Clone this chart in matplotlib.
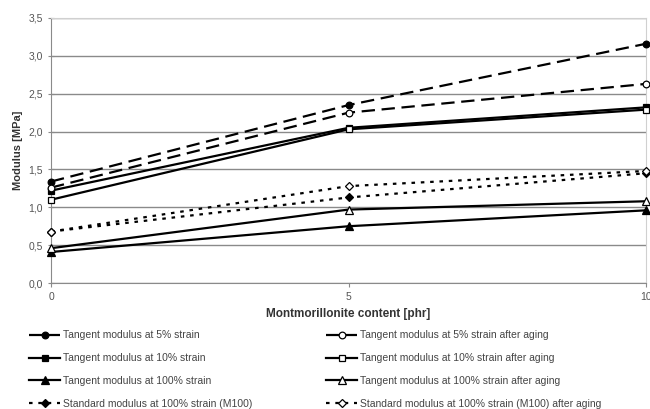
import matplotlib.pyplot as plt
from matplotlib.ticker import FuncFormatter

plt.rcParams['font.family'] = ['Liberation Sans', 'DejaVu Sans']

# Montmorillonite content [phr]
content = [0, 5, 10]

# modulus [MPa], before aging
tangent_5 = [1.34, 2.35, 3.16]
tangent_10 = [1.22, 2.05, 2.32]
tangent_100 = [0.41, 0.75, 0.96]
m100 = [0.68, 1.13, 1.45]

# modulus [MPa], after aging
tangent_5_aged = [1.26, 2.25, 2.63]
tangent_10_aged = [1.10, 2.03, 2.29]
tangent_100_aged = [0.46, 0.97, 1.08]
m100_aged = [0.68, 1.28, 1.48]

labels = [
    "Tangent modulus at 5% strain",
    "Tangent modulus at 10% strain",
    "Tangent modulus at 100% strain",
    "Standard modulus at 100% strain (M100)",
    "Tangent modulus at 5% strain after aging",
    "Tangent modulus at 10% strain after aging",
    "Tangent modulus at 100% strain after aging",
    "Standard modulus at 100% strain (M100) after aging",
]

dashed = (0, (6, 3))
dotted = (0, (1.6, 2.6))

series = [
    (tangent_5, dashed, 'o', 'black'),
    (tangent_10, '-', 's', 'black'),
    (tangent_100, '-', '^', 'black'),
    (m100, dotted, 'D', 'black'),
    (tangent_5_aged, dashed, 'o', 'white'),
    (tangent_10_aged, '-', 's', 'white'),
    (tangent_100_aged, '-', '^', 'white'),
    (m100_aged, dotted, 'D', 'white'),
]
msizes = {'o': 4.8, 's': 4.8, '^': 5.2, 'D': 4.0}

fig = plt.figure(figsize=(6.5, 4.09), dpi=100)
ax = fig.add_axes([0.0785, 0.308, 0.9155, 0.648])

handles = []
for (vals, ls, mk, face), lab in zip(series, labels):
    h, = ax.plot(content, vals, linestyle=ls, color='black', lw=1.6,
                 marker=mk, markersize=msizes[mk], markerfacecolor=face,
                 markeredgecolor='black', markeredgewidth=0.9,
                 label=lab, clip_on=False, zorder=3)
    handles.append(h)

ax.set_xlim(0, 10)
ax.set_ylim(0, 3.5)
ax.set_xticks(content)
ax.set_yticks([0, 0.5, 1.0, 1.5, 2.0, 2.5, 3.0, 3.5])
ax.yaxis.set_major_formatter(FuncFormatter(lambda v, p: f"{v:.1f}".replace('.', ',')))
ax.grid(axis='y', color='#8a8a8a', lw=1.0, zorder=0)

for side in ['top', 'right']:
    ax.spines[side].set_color('#d0d0d0')
ax.spines['left'].set_color('#8a8a8a')
ax.spines['bottom'].set_color('#8a8a8a')
ax.tick_params(axis='both', colors='#8a8a8a', labelcolor='#555555',
               labelsize=7.5, length=3, width=0.8)
ax.tick_params(axis='y', direction='inout', length=5)

ax.set_ylabel("Modulus [MPa]", fontsize=8, fontweight='bold', color='#333333',
              labelpad=4)
ax.set_xlabel("Montmorillonite content [phr]", fontsize=8.5, fontweight='bold',
              color='#333333', labelpad=4)

fig.legend(handles=handles, loc='lower left', bbox_to_anchor=(0.03, -0.022),
           ncol=2, frameon=False, fontsize=7.5, labelcolor='#444444',
           handlelength=3.0, handletextpad=0.3, columnspacing=7.05,
           labelspacing=1.22)

fig.savefig("out.png", dpi=100)
